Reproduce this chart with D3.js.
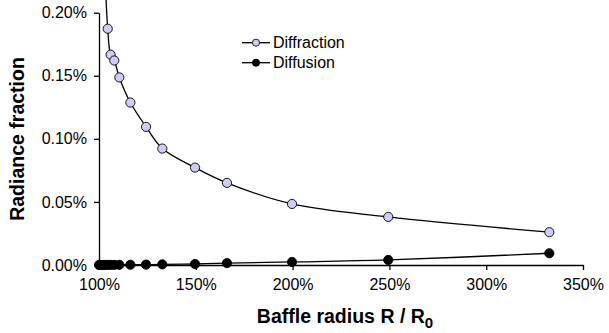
<!DOCTYPE html>
<html>
<head>
<meta charset="utf-8">
<script src="https://cdn.jsdelivr.net/npm/d3@7"></script>
<style>
  body { margin: 0; background: #fff; }
  svg { display: block; font-family: "Liberation Sans", Arial, sans-serif; }
  .axis path, .axis line { stroke: #000; stroke-width: 1.3; }
  .axis text { font-size: 16px; fill: #000; }
</style>
</head>
<body>
<svg id="chart"></svg>
<script>
// baffle radius R / R0 in percent
var radius = [100, 101, 102, 103, 104.5, 106, 107.9, 110.5, 116.2, 124.3, 132.7, 149.6, 166.1, 199.7, 249.4, 332.6];
// radiance fraction in percent
var diffraction = [0.45, 0.36, 0.29, 0.235, 0.1873, 0.1667, 0.1621, 0.1487, 0.1288, 0.1095, 0.0923, 0.0772, 0.0651, 0.0484, 0.0381, 0.0260];
var diffusion = [0.0000, 0.0000, 0.0000, 0.00005, 0.0001, 0.0001, 0.0001, 0.00015, 0.0002, 0.0003, 0.0005, 0.0008, 0.0015, 0.0024, 0.0040, 0.0093];

var xTicks = [100, 150, 200, 250, 300, 350];
var yTicks = [0, 0.05, 0.10, 0.15, 0.20];

var seriesNames = ['Diffraction', 'Diffusion'];
var seriesFill = ['#ccccf7', '#000'];

var width = 609;
var height = 333;

// plot area
var x = d3.scaleLinear().domain([100, 350]).range([99, 583]);
var y = d3.scaleLinear().domain([0, 0.2]).range([265, 12.7]);

var svg = d3.select('#chart')
  .attr('width', width)
  .attr('height', height);

// axes
svg.append('g')
  .attr('class', 'axis')
  .attr('transform', 'translate(0,265)')
  .call(d3.axisBottom(x).tickValues(xTicks).tickSize(5).tickSizeOuter(0).tickPadding(9)
    .tickFormat(function(d) { return d + '%'; }));

svg.append('g')
  .attr('class', 'axis')
  .attr('transform', 'translate(99,0)')
  .call(d3.axisLeft(y).tickValues(yTicks).tickSize(5).tickSizeOuter(0).tickPadding(7)
    .tickFormat(function(d) { return d3.format('.2f')(d) + '%'; }));

// axis titles
var xTitle = svg.append('text')
  .attr('x', 345)
  .attr('y', 323)
  .attr('text-anchor', 'middle')
  .style('font-size', '19.5px')
  .style('font-weight', 'bold')
  .text('Baffle radius R / R');
xTitle.append('tspan')
  .attr('dy', 5)
  .style('font-size', '15px')
  .text('0');

svg.append('text')
  .attr('transform', 'translate(23.5,139) rotate(-90)')
  .attr('text-anchor', 'middle')
  .style('font-size', '19.5px')
  .style('font-weight', 'bold')
  .text('Radiance fraction');

// series
var line = d3.line()
  .curve(d3.curveCatmullRom.alpha(0.5))
  .x(function(d) { return x(d[0]); })
  .y(function(d) { return y(d[1]); });

function drawSeries(values, fill) {
  var data = radius.map(function(r, i) { return [r, values[i]]; });
  var g = svg.append('g');
  g.append('path')
    .datum(data)
    .attr('d', line)
    .attr('fill', 'none')
    .attr('stroke', '#000')
    .attr('stroke-width', 1.3);
  g.selectAll('circle')
    .data(data)
    .enter()
    .append('circle')
      .attr('cx', function(d) { return x(d[0]); })
      .attr('cy', function(d) { return y(d[1]); })
      .attr('r', 4.6)
      .attr('fill', fill)
      .attr('stroke', '#000')
      .attr('stroke-width', 0.9);
}

drawSeries(diffraction, seriesFill[0]);
drawSeries(diffusion, seriesFill[1]);

// legend
var legend = svg.append('g');
seriesNames.forEach(function(name, i) {
  var ly = 42.7 + i * 20;
  legend.append('line')
    .attr('x1', 242).attr('x2', 270)
    .attr('y1', ly).attr('y2', ly)
    .attr('stroke', '#000')
    .attr('stroke-width', 1.3);
  legend.append('circle')
    .attr('cx', 256).attr('cy', ly)
    .attr('r', 3.6)
    .attr('fill', seriesFill[i])
    .attr('stroke', '#000')
    .attr('stroke-width', 0.8);
  legend.append('text')
    .attr('x', 273)
    .attr('y', ly + 5.5)
    .style('font-size', '16px')
    .text(name);
});
</script>
</body>
</html>
